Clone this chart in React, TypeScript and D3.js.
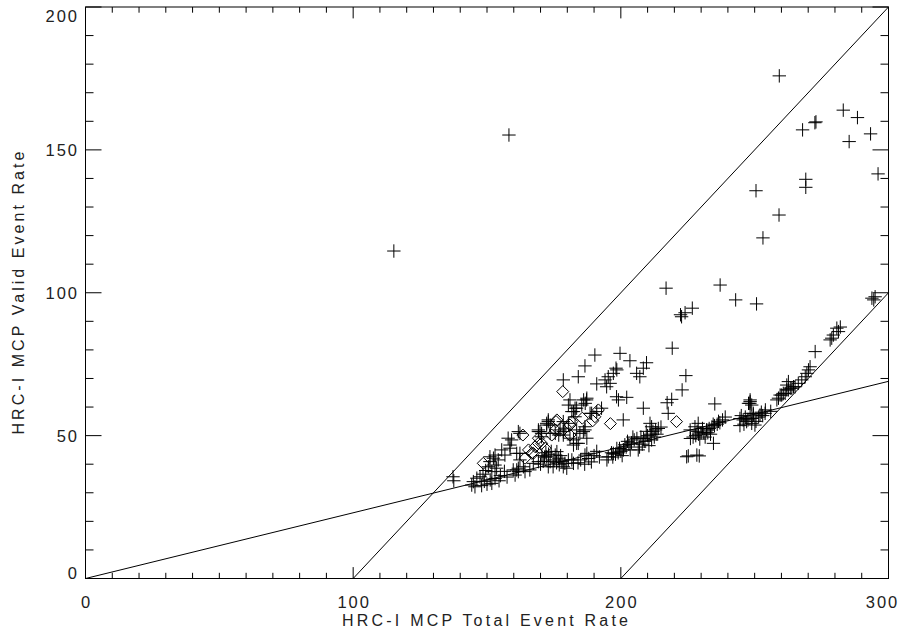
import React from "react";
import * as d3 from "d3";

// ---------- data ----------
const xTickLabels = [0, 100, 200, 300];
const yTickLabels = [0, 50, 100, 150, 200];

// reference lines [x1, y1, x2, y2] in data units
const refLines = [
  [0, 0, 300, 69],
  [100, 0, 300, 200],
  [200, 0, 300, 100],
];

const plusX = [
  115.2, 158.2, 259.2, 283.1, 288.4, 272.5, 272.9, 267.9, 285.3, 293.3, 296.1, 269.1, 269.1, 250.5, 259.1, 253.1,
  216.9, 237.1, 242.9, 250.7, 222.7, 226.7, 222.3, 224.0, 219.2, 224.3, 222.9,
  190.3, 199.7, 203.4, 209.6, 208.4, 186.6, 198.2, 197.2, 195.3, 194.1, 205.9, 207.1, 191.0, 194.7, 196.0, 198.5, 184.1, 178.5,
  198.4, 202.2, 199.1, 187.2, 186.1, 187.3, 186.7, 185.4, 180.4, 181.0, 208.4, 217.3, 219.0, 217.7, 235.1, 248.2, 249.5,
  189.1, 192.8, 200.9, 191.0, 188.5, 183.5, 182.3, 182.9, 182.9, 181.7, 178.5, 172.9, 172.3, 169.2, 170.4, 173.6, 176.8, 178.5,
  186.6, 186.0, 187.3, 186.6, 182.3, 183.5, 187.3, 181.7, 182.3, 195.3, 194.8, 197.2, 186.6,
  234.6, 225.2, 229.3, 224.6, 228.4, 225.9, 227.7, 228.9, 210.9, 211.5,
  172.3, 172.9, 169.2, 162.3, 161.7, 157.9, 158.6, 156.7, 155.5, 159.2, 158.6, 169.8, 170.4, 173.6, 175.5, 177.3, 178.5, 179.1, 180.4,
  181.0, 182.3, 184.1, 184.7, 183.5, 162.3, 161.1, 162.3, 161.7, 163.6, 159.8, 164.2, 161.1, 161.7, 160.5,
  179.1, 180.4, 179.8, 178.5, 167.3, 169.2, 166.0, 173.6, 175.5, 176.8, 172.9, 174.7, 172.3, 176.1,
  137.3, 137.6, 144.9, 144.3, 146.2, 145.5, 147.4, 151.2, 151.8, 150.5, 151.1, 152.4, 153.0, 153.6, 151.8, 154.2, 153.0, 151.1,
  148.5, 149.5, 155.0, 156.5, 157.5, 149.0, 150.0, 153.0, 154.5, 148.0,
  244.5, 245.7, 247.0, 248.9, 250.1, 248.3, 249.5, 253.9, 252.0, 248.3, 248.3, 247.7, 248.9, 258.3, 258.9, 259.5, 260.1, 260.7,
  261.4, 262.0, 262.6, 263.3, 263.9, 264.5, 265.1, 266.3, 262.0, 262.6, 267.6, 268.9, 269.5, 270.1, 270.7, 272.6, 278.2, 278.8,
  279.4, 280.7, 281.3, 282.0, 293.8, 295.0, 294.5, 256.0, 254.0,
  226.0, 227.0, 228.0, 229.0, 230.0, 231.0, 232.0, 233.0, 234.0, 235.0, 236.0, 237.0, 238.0, 239.0, 228.5, 230.5, 232.5, 234.5,
  236.5, 231.5, 229.5, 233.5,
  244.5, 246.0, 247.5, 249.0, 250.5, 251.5, 253.0, 246.5, 245.0, 252.5,
  197.0, 198.0, 199.0, 200.0, 201.0, 202.0, 203.0, 204.0, 205.0, 206.0, 199.5, 201.5, 203.5, 198.5, 200.5, 202.5, 204.5, 196.5,
  206.5, 207.0, 208.0, 208.5, 209.0, 210.0, 211.0, 212.0, 213.0, 214.0, 215.0, 209.5, 211.5, 212.5, 210.5, 207.5, 213.5,
  170.0, 171.0, 171.5, 173.0, 174.0, 175.0, 176.0, 177.0, 178.0, 177.5, 172.0, 170.5,
  184.0, 185.0, 188.0, 190.0, 192.0, 189.0, 186.5, 191.0,
];
const plusY = [
  114.6, 155.2, 175.9, 163.9, 161.3, 159.5, 159.8, 157.0, 152.9, 155.6, 141.6, 139.7, 136.9, 135.7, 127.2, 119.2,
  101.6, 102.7, 97.5, 96.1, 91.6, 94.6, 92.3, 93.0, 80.6, 71.0, 66.0,
  78.2, 78.8, 76.2, 75.5, 73.6, 74.4, 73.6, 71.8, 70.6, 69.5, 71.8, 70.6, 68.1, 67.1, 68.3, 73.0, 70.6, 69.5,
  63.6, 63.4, 62.5, 62.5, 62.5, 63.1, 61.3, 60.7, 60.7, 62.5, 59.6, 61.5, 62.7, 57.8, 61.1, 61.3, 57.8,
  57.8, 59.6, 55.5, 58.4, 57.8, 59.6, 58.4, 56.6, 59.6, 58.4, 54.9, 55.5, 53.7, 52.0, 50.8, 50.8, 50.2, 51.4,
  53.1, 51.4, 49.1, 52.0, 48.5, 47.3, 43.8, 41.5, 40.3, 42.6, 41.5, 43.8, 43.2,
  47.3, 42.9, 42.9, 42.6, 43.2, 52.0, 53.1, 54.3, 54.3, 53.1,
  54.3, 54.9, 51.4, 50.8, 51.4, 49.1, 45.6, 43.2, 45.0, 48.5, 46.7, 51.4, 49.6, 53.7, 50.8, 52.0, 50.2, 52.6, 54.3,
  49.1, 46.7, 47.3, 50.8, 52.0, 43.8, 43.8, 41.5, 38.6, 39.1, 38.0, 37.4, 38.0, 37.4, 36.2,
  40.3, 41.5, 38.6, 39.1, 40.3, 40.9, 38.0, 40.9, 43.2, 42.1, 39.1, 39.1, 42.6, 44.4,
  35.6, 34.2, 33.9, 32.7, 35.1, 32.1, 35.6, 34.5, 33.3, 39.1, 40.9, 42.1, 39.7, 38.6, 37.4, 41.5, 43.2, 42.6,
  36.5, 37.8, 36.0, 37.5, 35.5, 34.0, 33.0, 35.0, 34.2, 32.5,
  56.0, 55.5, 54.9, 54.3, 53.7, 57.8, 57.2, 57.8, 57.2, 61.9, 62.5, 61.3, 60.7, 62.5, 63.1, 64.2, 64.2, 64.8,
  64.8, 66.0, 66.0, 66.6, 66.6, 67.1, 67.1, 68.3, 67.7, 68.9, 69.5, 70.6, 71.8, 73.0, 74.1, 79.4, 83.5, 84.1,
  85.2, 87.6, 86.4, 88.0, 98.1, 98.6, 97.5, 58.5, 59.0,
  49.0, 49.5, 50.0, 50.5, 51.0, 51.0, 52.0, 52.5, 53.0, 53.5, 54.0, 54.5, 55.5, 56.5, 51.5, 52.5, 51.0, 54.0,
  55.0, 49.5, 48.8, 50.5,
  53.5, 54.0, 55.5, 56.0, 55.0, 56.5, 57.0, 56.5, 57.0, 58.2,
  42.5, 43.5, 44.0, 44.5, 45.0, 46.0, 47.0, 47.5, 48.5, 49.0, 45.5, 46.8, 45.0, 45.5, 43.0, 48.0, 49.5, 44.0,
  45.0, 46.0, 47.0, 49.0, 48.0, 50.0, 50.5, 51.5, 52.0, 52.5, 53.0, 51.5, 48.5, 49.5, 46.5, 49.5, 50.5,
  40.0, 41.0, 42.5, 43.5, 44.5, 41.5, 40.5, 39.8, 41.0, 43.0, 44.0, 43.0,
  40.5, 41.5, 42.0, 43.0, 42.5, 40.8, 40.0, 44.5,
];

const diamondX = [
  148.6, 163.4, 165.5, 166.7, 168.0, 164.2, 169.2, 171.7, 170.4, 175.8, 178.3, 176.1, 181.0, 185.6, 189.5, 190.3,
  196.1, 175.5, 174.2, 169.2, 181.0, 191.6, 220.8, 181.7, 167.3,
];
const diamondY = [
  40.3, 50.2, 45.0, 43.8, 46.1, 42.1, 47.3, 45.6, 47.3, 54.9, 65.4, 55.5, 53.7, 56.1, 55.2, 56.6,
  54.2, 52.0, 50.2, 49.1, 50.2, 59.0, 54.9, 54.9, 43.8,
];

// ---------- layout ----------
const W = 909;
const H = 639;
const L = 85.5, R = 888.5, T = 7, B = 578.5;
const FONT = "'Liberation Sans', Arial, sans-serif";
const TXT = "#222";

export default function App() {
  const x = d3.scaleLinear().domain([0, 300]).range([L, R]);
  const y = d3.scaleLinear().domain([0, 200]).range([B, T]);

  const xMinor = d3.range(0, 301, 10).filter((v) => v % 100 !== 0);
  const yMinor = d3.range(0, 201, 10).filter((v) => v % 50 !== 0);
  const xMajLen = 11.4, xMinLen = 5.7, yMajLen = 16, yMinLen = 8;

  const plusPath = "M-6.7,0H6.7M0,-6.7V6.7";
  const diamondPath = "M0,-6L6,0L0,6L-6,0Z";

  const yLabelBase = (v: number) => (v === 0 ? 579 : v === 200 ? 22 : y(v) + 6);
  const xLabelCenter = (v: number) => (v === 300 ? x(v) - 7 : x(v));

  return (
    <svg width={W} height={H} style={{ position: "absolute", left: 0, top: 0, background: "#fff" }}>
      <rect x={0} y={0} width={W} height={H} fill="#fff" />
      {/* frame */}
      <rect x={L} y={T} width={R - L} height={B - T} fill="none" stroke="#000" strokeWidth={1} />
      {/* x ticks bottom & top */}
      <g stroke="#000" strokeWidth={1}>
        {xTickLabels.map((v) => (
          <g key={"xm" + v}>
            <line x1={x(v)} x2={x(v)} y1={B} y2={B - xMajLen} />
            <line x1={x(v)} x2={x(v)} y1={T} y2={T + xMajLen} />
          </g>
        ))}
        {xMinor.map((v) => (
          <g key={"xn" + v}>
            <line x1={x(v)} x2={x(v)} y1={B} y2={B - xMinLen} />
            <line x1={x(v)} x2={x(v)} y1={T} y2={T + xMinLen} />
          </g>
        ))}
        {yTickLabels.map((v) => (
          <g key={"ym" + v}>
            <line x1={L} x2={L + yMajLen} y1={y(v)} y2={y(v)} />
            <line x1={R} x2={R - yMajLen} y1={y(v)} y2={y(v)} />
          </g>
        ))}
        {yMinor.map((v) => (
          <g key={"yn" + v}>
            <line x1={L} x2={L + yMinLen} y1={y(v)} y2={y(v)} />
            <line x1={R} x2={R - yMinLen} y1={y(v)} y2={y(v)} />
          </g>
        ))}
      </g>
      {/* tick labels */}
      <g fontFamily={FONT} fontSize={16.5} fill={TXT} letterSpacing={2}>
        {xTickLabels.map((v) => (
          <text key={"xl" + v} x={xLabelCenter(v) + 1} y={608} textAnchor="middle">
            {v}
          </text>
        ))}
        {yTickLabels.map((v) => (
          <text key={"yl" + v} x={79} y={yLabelBase(v)} textAnchor="end">
            {v}
          </text>
        ))}
      </g>
      {/* axis titles */}
      <text x={485} y={626} textAnchor="middle" fontFamily={FONT} fontSize={16} fill={TXT} textLength={286} lengthAdjust="spacing">
        HRC-I MCP Total Event Rate
      </text>
      <text
        transform={`translate(24,293) rotate(-90)`}
        textAnchor="middle"
        fontFamily={FONT}
        fontSize={16}
        fill={TXT}
        textLength={283}
        lengthAdjust="spacing"
      >
        HRC-I MCP Valid Event Rate
      </text>
      {/* reference lines */}
      <g stroke="#000" strokeWidth={1} fill="none">
        {refLines.map((l, i) => (
          <line key={"rl" + i} x1={x(l[0])} y1={y(l[1])} x2={x(l[2])} y2={y(l[3])} />
        ))}
      </g>
      {/* plus markers */}
      <g stroke="#000" strokeWidth={1} fill="none">
        {plusX.map((v, i) => (
          <path key={"p" + i} d={plusPath} transform={`translate(${x(v)},${y(plusY[i])})`} />
        ))}
      </g>
      {/* diamond markers */}
      <g stroke="#000" strokeWidth={1} fill="none">
        {diamondX.map((v, i) => (
          <path key={"d" + i} d={diamondPath} transform={`translate(${x(v)},${y(diamondY[i])})`} />
        ))}
      </g>
    </svg>
  );
}
